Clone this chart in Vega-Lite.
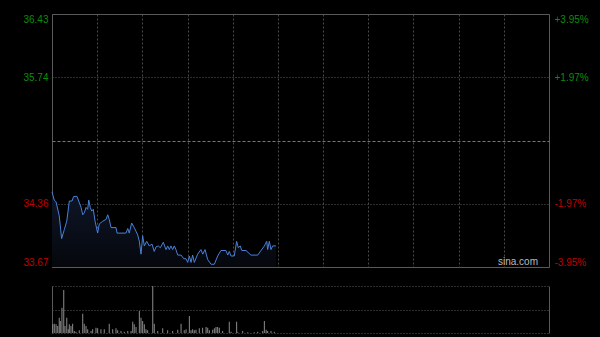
{
"$schema": "https://vega.github.io/schema/vega-lite/v6.json",
"background": "#000000",
"padding": {"left": 22, "top": 13, "right": 15, "bottom": 5},
"spacing": 19,
"bounds": "flush",
"config": {"view": {"stroke": "#5a5a5a", "strokeWidth": 1}, "axis": {"labelFont": "Liberation Sans", "labelFontSize": 10, "title": null}},
"datasets": {
"price": [
{"m":0,"p":34.49},{"m":1.5,"p":34.40},{"m":2.7,"p":34.38},{"m":4.8,"p":34.23},{"m":6.4,"p":33.98},{"m":8.2,"p":34.08},{"m":9.8,"p":34.17},{"m":11.5,"p":34.39},{"m":13.3,"p":34.39},{"m":14.4,"p":34.44},{"m":16.6,"p":34.44},{"m":19.3,"p":34.32},{"m":20.4,"p":34.24},{"m":21.4,"p":34.26},{"m":22.6,"p":34.32},{"m":23.7,"p":34.30},{"m":24.4,"p":34.40},{"m":25.4,"p":34.32},{"m":26.4,"p":34.28},{"m":27.4,"p":34.30},{"m":28.6,"p":34.17},{"m":30.3,"p":34.04},{"m":31.4,"p":34.14},{"m":33.7,"p":34.17},{"m":35.9,"p":34.19},{"m":37,"p":34.24},{"m":38,"p":34.19},{"m":39.2,"p":34.10},{"m":42.5,"p":34.10},{"m":43.2,"p":34.04},{"m":49.1,"p":34.04},{"m":50.3,"p":34.09},{"m":51.3,"p":34.04},{"m":52.9,"p":34.15},{"m":54.6,"p":34.10},{"m":56.9,"p":34.02},{"m":58,"p":33.95},{"m":59.1,"p":33.81},{"m":60.2,"p":34.01},{"m":61.3,"p":33.90},{"m":62.9,"p":33.95},{"m":64.6,"p":33.90},{"m":66.4,"p":33.92},{"m":67.9,"p":33.84},{"m":69.1,"p":33.89},{"m":70.6,"p":33.90},{"m":71.9,"p":33.88},{"m":73.9,"p":33.94},{"m":75.7,"p":33.86},{"m":76.8,"p":33.90},{"m":77.9,"p":33.86},{"m":79,"p":33.90},{"m":80.1,"p":33.86},{"m":81.2,"p":33.90},{"m":82.3,"p":33.86},{"m":83.5,"p":33.80},{"m":85.7,"p":33.80},{"m":87.5,"p":33.76},{"m":89,"p":33.76},{"m":90.1,"p":33.72},{"m":91.2,"p":33.79},{"m":92.3,"p":33.72},{"m":93.4,"p":33.80},{"m":94.5,"p":33.72},{"m":96.7,"p":33.81},{"m":98.9,"p":33.86},{"m":100.1,"p":33.81},{"m":101.6,"p":33.86},{"m":103.4,"p":33.75},{"m":105.6,"p":33.70},{"m":107.8,"p":33.70},{"m":110,"p":33.79},{"m":112.2,"p":33.85},{"m":115.5,"p":33.85},{"m":116.7,"p":33.80},{"m":117.7,"p":33.84},{"m":118.9,"p":33.79},{"m":121,"p":33.79},{"m":122.6,"p":33.95},{"m":123.7,"p":33.88},{"m":125,"p":33.90},{"m":126,"p":33.85},{"m":128.8,"p":33.85},{"m":132.1,"p":33.80},{"m":136.6,"p":33.80},{"m":138.8,"p":33.85},{"m":141,"p":33.90},{"m":142.6,"p":33.95},{"m":143.2,"p":33.86},{"m":144.3,"p":33.95},{"m":145.4,"p":33.86},{"m":146.5,"p":33.90},{"m":148.7,"p":33.90}
],
"vol": [
{"m":0.5,"v":8.7},{"m":1.5,"v":9.3},{"m":2.7,"v":8.7},{"m":3.8,"v":7},{"m":4.8,"v":15.3},{"m":5.5,"v":12},{"m":6.6,"v":25.3},{"m":7.8,"v":43},{"m":8.6,"v":7},{"m":9.8,"v":15.3},{"m":10.8,"v":3.7},{"m":11.5,"v":8.7},{"m":12.6,"v":7},{"m":13.7,"v":9.3},{"m":14.8,"v":2},{"m":15.9,"v":1.3},{"m":18.1,"v":2.7},{"m":20.4,"v":19.3},{"m":21.4,"v":9.3},{"m":22.6,"v":7},{"m":23.7,"v":3.7},{"m":25.9,"v":2},{"m":27,"v":3.7},{"m":29.2,"v":5.3},{"m":30.3,"v":4.7},{"m":32.5,"v":3.7},{"m":34.7,"v":3.7},{"m":38,"v":9.3},{"m":40.3,"v":3.7},{"m":42.5,"v":4.7},{"m":43.6,"v":2.7},{"m":45.8,"v":2},{"m":48,"v":1.3},{"m":50.3,"v":2},{"m":52.5,"v":2},{"m":53.6,"v":11.3},{"m":54.6,"v":8.7},{"m":55.8,"v":6},{"m":58,"v":22},{"m":59.1,"v":15.3},{"m":60.2,"v":12},{"m":61.3,"v":8.7},{"m":62.4,"v":3.7},{"m":63.5,"v":2.7},{"m":66.9,"v":47},{"m":67.9,"v":9.3},{"m":70.2,"v":2},{"m":73.5,"v":4.7},{"m":76.8,"v":2.7},{"m":80.1,"v":2},{"m":83.5,"v":3.3},{"m":85.7,"v":9.3},{"m":87.8,"v":2.7},{"m":89,"v":3.7},{"m":91.2,"v":17},{"m":92.3,"v":2.7},{"m":93.4,"v":3.7},{"m":94.5,"v":2.7},{"m":95.6,"v":3.3},{"m":97.8,"v":4.7},{"m":100,"v":5.3},{"m":102.3,"v":6},{"m":103.4,"v":5.3},{"m":104.5,"v":2.7},{"m":106.7,"v":3.3},{"m":107.8,"v":4.7},{"m":108.9,"v":6},{"m":110,"v":6},{"m":111.1,"v":5.3},{"m":113.3,"v":2},{"m":117.7,"v":11.3},{"m":118.9,"v":1.3},{"m":122.6,"v":11.3},{"m":123.3,"v":0.7},{"m":126.6,"v":2},{"m":130,"v":0.7},{"m":134.3,"v":0.7},{"m":136.6,"v":1.3},{"m":139.9,"v":2},{"m":141,"v":12},{"m":142.2,"v":3.3},{"m":143.2,"v":2},{"m":145.4,"v":2},{"m":147.6,"v":1.3}
]
},
"vconcat": [
{
"width": 497, "height": 253,
"layer": [
{
"data": {"name": "price"},
"mark": {"type": "area", "color": {"gradient": "linear", "x1": 0, "y1": 0, "x2": 0, "y2": 1, "stops": [{"offset": 0, "color": "#0f1628"}, {"offset": 1, "color": "#05070c"}]}},
"encoding": {
"x": {"field": "m", "type": "quantitative", "scale": {"domain": [0, 330], "nice": false, "zero": false},
"axis": {"values": [30, 60, 90, 120, 150, 180, 210, 240, 270, 300], "grid": true, "gridColor": "#4a4a4a", "gridDash": [2, 2], "labels": false, "ticks": false, "domain": false}},
"y": {"field": "p", "type": "quantitative", "scale": {"domain": [33.67, 36.43], "nice": false, "zero": false},
"axis": {"orient": "right", "values": [33.67, 34.36, 35.05, 35.74, 36.43], "grid": false, "ticks": false, "domain": false, "labelPadding": 5, "labelFlush": true,
"labelExpr": "datum.value > 36 ? '+3.95%' : datum.value > 35.5 ? '+1.97%' : datum.value > 35 ? '' : datum.value > 34 ? '-1.97%' : '-3.95%'",
"labelColor": {"condition": {"test": "datum.value > 35.05", "value": "#0c8c0c"}, "value": "#c00000"}}},
"y2": {"datum": 33.67}
}
},
{
"data": {"name": "price"},
"mark": {"type": "line", "color": "#4a80d8", "strokeWidth": 1},
"encoding": {
"x": {"field": "m", "type": "quantitative",
"axis": {"values": [30, 60, 90, 120, 150, 180, 210, 240, 270, 300], "grid": true, "gridColor": "#4a4a4a", "gridDash": [2, 2], "labels": false, "ticks": false, "domain": false}},
"y": {"field": "p", "type": "quantitative",
"axis": {"orient": "left", "values": [33.67, 34.36, 35.05, 35.74, 36.43], "grid": true, "ticks": false, "domain": false, "labelPadding": 4, "labelFlush": true,
"labelExpr": "abs(datum.value - 35.05) < 0.01 ? '' : format(datum.value, '.2f')",
"labelColor": {"condition": {"test": "datum.value > 35.05", "value": "#0c8c0c"}, "value": "#c00000"},
"gridColor": {"condition": {"test": "abs(datum.value - 35.05) < 0.01", "value": "#777777"}, "value": "#5a5a5a"},
"gridDash": {"condition": {"test": "abs(datum.value - 35.05) < 0.01", "value": [3, 2]}, "value": [1, 2]}}}
}
},
{
"data": {"values": [{"label": "sina.com"}]},
"mark": {"type": "text", "align": "right", "baseline": "alphabetic", "dx": -11, "dy": -2, "font": "Liberation Sans", "fontSize": 10, "color": "#bbbbbb"},
"encoding": {
"x": {"datum": 330, "type": "quantitative",
"axis": {"values": [30, 60, 90, 120, 150, 180, 210, 240, 270, 300], "grid": true, "gridColor": "#4a4a4a", "gridDash": [2, 2], "labels": false, "ticks": false, "domain": false}},
"y": {"datum": 33.67, "type": "quantitative", "axis": null},
"text": {"field": "label"}
}
}
],
"resolve": {"axis": {"y": "independent"}}
},
{
"width": 497, "height": 47,
"view": {"stroke": null},
"data": {"name": "vol"},
"mark": {"type": "bar", "width": 1, "color": "#8c8c8c"},
"encoding": {
"x": {"field": "m", "type": "quantitative", "scale": {"domain": [0, 330], "nice": false, "zero": false, "padding": 0},
"axis": {"values": [0, 330], "grid": true, "gridColor": "#5a5a5a", "gridDash": [], "labels": false, "ticks": false, "domain": false}},
"y": {"field": "v", "type": "quantitative", "scale": {"domain": [0, 47], "nice": false},
"axis": {"orient": "left", "values": [0, 23.5, 47], "grid": true, "gridColor": "#5a5a5a", "gridDash": [1, 2], "labels": false, "ticks": false, "domain": false}}
}
}
]
}
